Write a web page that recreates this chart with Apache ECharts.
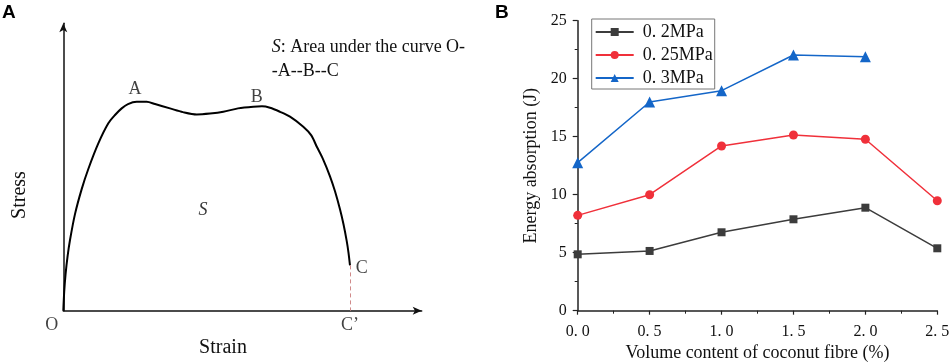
<!DOCTYPE html>
<html>
<head>
<meta charset="utf-8">
<script src="https://cdn.jsdelivr.net/npm/echarts@6/dist/echarts.min.js"></script>
<style>
html,body{margin:0;padding:0;background:#fff;}
#chart{width:951px;height:364px;}
</style>
</head>
<body>
<div id="chart"></div>
<script>
// ---------- Panel A: schematic stress-strain curve (normalised 0-100 units) ----------
const panelAStrain = [0, 0.25, 0.64, 1.20, 1.87, 3.26, 5.13, 6.98, 9.77, 12.56, 14.43, 16.29, 18.05, 20.48, 23.27, 25.59, 29.77, 33.4, 37.22, 40.93, 44.64, 48.74, 53.01, 55.44, 57.67, 60.46, 63.25, 66.96, 69.20, 70.70, 72.46, 74.41, 75.81, 77.20, 78.18, 79.07, 79.57, 79.99];
const panelAStress = [0, 6.5, 12.8, 19.0, 24.6, 33.6, 42.3, 49.3, 58.2, 65.2, 68.1, 70.4, 71.9, 72.7, 72.7, 71.9, 70.4, 69.1, 68.3, 68.6, 69.2, 70.4, 71.0, 71.1, 70.6, 69.2, 67.5, 64.0, 61.0, 57.13, 52.75, 46.76, 41.54, 35.28, 30.06, 24.29, 20.22, 15.76];
const panelALabelText = ['A', 'B', 'C', 'O', 'C\u2019'];
const panelALabelX = [20.0, 54.0, 83.3, -3.2, 80.0];
const panelALabelY = [77.1, 74.1, 14.8, -5.0, -5.0];

// ---------- Panel B: energy absorption ----------
const fibreContent = [0, 0.5, 1.0, 1.5, 2.0, 2.5];
const xTickLabels = ['0. 0', '0. 5', '1. 0', '1. 5', '2. 0', '2. 5'];
const seriesNames = ['0. 2MPa', '0. 25MPa', '0. 3MPa'];
const energy02 = [4.86, 5.15, 6.76, 7.88, 8.88, 5.38];
const energy025 = [8.22, 10.0, 14.2, 15.15, 14.78, 9.48];
const energy03 = [12.76, 17.99, 18.97, 22.04, 21.9, null];

const serif = '"Liberation Serif", "DejaVu Serif", serif';
const chart = echarts.init(document.getElementById('chart'), null, {renderer: 'canvas'});

function pairs(xs, ys) { return xs.map((x, i) => [x, ys[i]]); }

const axisBlack = '#111';
const lastI = panelAStrain.length - 1;
const option = {
  animation: false,
  backgroundColor: '#fff',
  grid: [
    {left: 63.3, top: 23.3, width: 358.4, height: 287.4, containLabel: false, outerBoundsMode: 'none'},
    {left: 577.7, top: 20.7, width: 359.6, height: 290, containLabel: false, outerBoundsMode: 'none'}
  ],
  xAxis: [
    {gridIndex: 0, type: 'value', min: 0, max: 100,
     axisLine: {show: true, onZero: false, symbol: ['none', 'arrow'], symbolSize: [6, 9], lineStyle: {color: axisBlack, width: 1.5}},
     axisTick: {show: false}, axisLabel: {show: false}, splitLine: {show: false}},
    {gridIndex: 1, type: 'value', min: 0, max: 2.5, interval: 0.5,
     axisLine: {show: true, onZero: false, lineStyle: {color: '#222', width: 1.5}},
     axisTick: {show: true, length: 4, lineStyle: {color: '#222', width: 1.2}},
     minorTick: {show: true, splitNumber: 2, length: 3, lineStyle: {color: '#222', width: 1}},
     axisLabel: {margin: 13, fontFamily: serif, fontSize: 16, color: '#111',
       formatter: v => { const i = fibreContent.indexOf(+v.toFixed(1)); return i >= 0 ? xTickLabels[i] : ''; }},
     splitLine: {show: false},
     name: 'Volume content of coconut fibre (%)', nameLocation: 'middle', nameGap: 34,
     nameTextStyle: {fontFamily: serif, fontSize: 18, color: '#111'}}
  ],
  yAxis: [
    {gridIndex: 0, type: 'value', min: 0, max: 100,
     axisLine: {show: true, onZero: false, symbol: ['none', 'arrow'], symbolSize: [6, 9], lineStyle: {color: axisBlack, width: 1.5}},
     axisTick: {show: false}, axisLabel: {show: false}, splitLine: {show: false}},
    {gridIndex: 1, type: 'value', min: 0, max: 25, interval: 5,
     axisLine: {show: true, onZero: false, lineStyle: {color: '#222', width: 1.5}},
     axisTick: {show: true, length: 5, lineStyle: {color: '#222', width: 1.2}},
     minorTick: {show: true, splitNumber: 2, length: 3, lineStyle: {color: '#222', width: 1}},
     axisLabel: {margin: 11, fontFamily: serif, fontSize: 16, color: '#111'},
     splitLine: {show: false},
     name: 'Energy absorption (J)', nameLocation: 'middle', nameGap: 37,
     nameTextStyle: {fontFamily: serif, fontSize: 18, color: '#111'}}
  ],
  legend: {
    data: seriesNames,
    orient: 'vertical', left: 591.7, top: 19,
    padding: [4, 2, 2, 3], itemGap: 5,
    itemWidth: 38, itemHeight: 10,
    borderColor: '#777', borderWidth: 1, backgroundColor: '#fff',
    textStyle: {fontFamily: serif, fontSize: 18, color: '#111', lineHeight: 18, padding: [0, 0, 0, 4]}
  },
  graphic: [
    {type: 'text', left: 2, top: 3, style: {text: 'A', font: 'bold 19px "Liberation Sans", Arial, sans-serif', fill: '#000'}},
    {type: 'text', left: 495, top: 3, style: {text: 'B', font: 'bold 19px "Liberation Sans", Arial, sans-serif', fill: '#000'}},
    {type: 'text', x: 20, y: 195, rotation: Math.PI / 2,
     style: {text: 'Stress', font: '20px ' + serif, fill: '#111', textAlign: 'center', textVerticalAlign: 'middle', align: 'center', verticalAlign: 'middle'}},
    {type: 'text', x: 223, y: 348,
     style: {text: 'Strain', font: '20px ' + serif, fill: '#111', textAlign: 'center', textVerticalAlign: 'middle', align: 'center', verticalAlign: 'middle'}},
    {type: 'text', left: 271.7, top: 35,
     style: {text: '{i|S}: Area under the curve O-\n-A--B--C', font: '18px ' + serif, fill: '#111', lineHeight: 24,
       rich: {i: {fontStyle: 'italic', fontFamily: serif, fontSize: 18, fill: '#111'}}}}
  ],
  series: [
    {type: 'line', xAxisIndex: 0, yAxisIndex: 0, data: pairs(panelAStrain, panelAStress),
     smooth: 0.3, showSymbol: false, lineStyle: {color: '#000', width: 2}, silent: true,
     markLine: {silent: true, symbol: ['none', 'none'], label: {show: false},
       lineStyle: {color: '#d08a8a', type: [4, 3], width: 1},
       data: [[{coord: [panelAStrain[lastI], panelAStress[lastI]]}, {coord: [panelAStrain[lastI], 0]}]]}},
    {type: 'scatter', xAxisIndex: 0, yAxisIndex: 0, clip: false, symbolSize: 0, silent: true,
     data: panelALabelX.map((x, i) => ({value: [x, panelALabelY[i]], name: panelALabelText[i]})),
     label: {show: true, position: 'inside', formatter: p => p.name, fontFamily: serif, fontSize: 18, color: '#111'}},
    {type: 'scatter', xAxisIndex: 0, yAxisIndex: 0, clip: false, symbolSize: 0, silent: true,
     data: [{value: [39, 35], name: 'S'}],
     label: {show: true, position: 'inside', formatter: 'S', fontFamily: serif, fontStyle: 'italic', fontSize: 18, color: '#000'}},
    {name: seriesNames[0], type: 'line', xAxisIndex: 1, yAxisIndex: 1, data: pairs(fibreContent, energy02),
     symbol: 'rect', symbolSize: 8, color: '#3c3c3c', lineStyle: {width: 1.5, color: '#3c3c3c'}, itemStyle: {color: '#3c3c3c'}},
    {name: seriesNames[1], type: 'line', xAxisIndex: 1, yAxisIndex: 1, data: pairs(fibreContent, energy025),
     symbol: 'circle', symbolSize: 9, color: '#f0303a', lineStyle: {width: 1.5, color: '#f0303a'}, itemStyle: {color: '#f0303a'}},
    {name: seriesNames[2], type: 'line', xAxisIndex: 1, yAxisIndex: 1, data: pairs(fibreContent, energy03),
     symbol: 'triangle', symbolSize: 11, color: '#1466c8', lineStyle: {width: 1.5, color: '#1466c8'}, itemStyle: {color: '#1466c8'}}
  ]
};
chart.setOption(option);
</script>
</body>
</html>
